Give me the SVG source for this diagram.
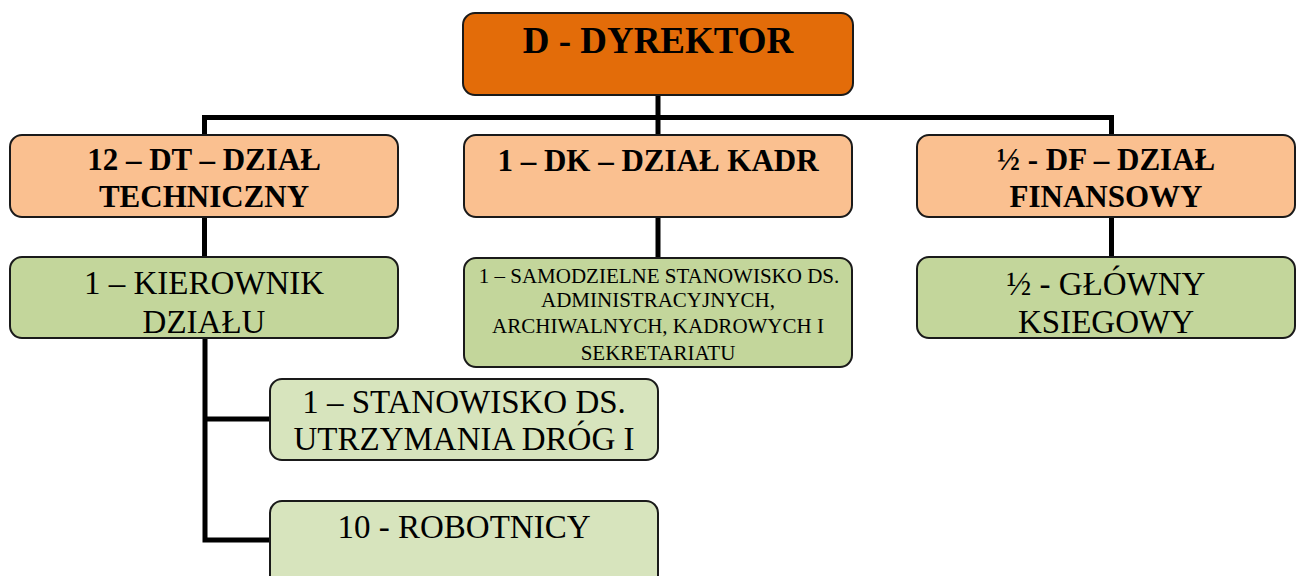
<svg xmlns="http://www.w3.org/2000/svg" width="1297" height="576" viewBox="0 0 1297 576">
<style>
.box{stroke:#1a1a1a;stroke-width:2}
.dir{fill:#E36C09}
.l2{fill:#FAC090}
.l3{fill:#C3D69B}
.l4{fill:#D7E4BD}
.conn{fill:none;stroke:#000;stroke-width:5}
svg text.t{font-family:"Liberation Serif","Times New Roman",serif;fill:#000;text-anchor:middle;font-weight:normal}
svg text.t.b{font-weight:bold}
</style>
<rect x="0" y="0" width="1297" height="576" fill="#fff"/>
<g id="connectors">
<path class="conn" d="M658,95 V135"/>
<path class="conn" d="M204.5,135 V117.5 H1111.5 V135"/>
<path class="conn" d="M204.5,217 V257"/>
<path class="conn" d="M658,217 V258"/>
<path class="conn" d="M1111.5,217 V257"/>
<path class="conn" d="M205,338 V540 H270"/>
<path class="conn" d="M205,419 H270"/>
</g>
<g id="n-dyrektor">
<rect class="box dir" x="463" y="13" width="390" height="82" rx="12"/>
<text class="t b" x="658" y="53" font-size="37" font-family="Liberation Serif">D - DYREKTOR</text>
</g>
<g id="n-dt">
<rect class="box l2" x="10" y="135" width="388" height="82" rx="12"/>
<text class="t b" x="204" y="170" font-size="31" font-family="Liberation Serif">12 – DT – DZIAŁ</text>
<text class="t b" x="204" y="207" font-size="31" font-family="Liberation Serif">TECHNICZNY</text>
</g>
<g id="n-dk">
<rect class="box l2" x="464" y="135" width="388" height="82" rx="12"/>
<text class="t b" x="658" y="171" font-size="31" font-family="Liberation Serif">1 – DK – DZIAŁ KADR</text>
</g>
<g id="n-df">
<rect class="box l2" x="917" y="135" width="378" height="82" rx="12"/>
<text class="t b" x="1106" y="170" font-size="31" font-family="Liberation Serif">½ - DF – DZIAŁ</text>
<text class="t b" x="1106" y="207" font-size="31" font-family="Liberation Serif">FINANSOWY</text>
</g>
<g id="n-kierownik">
<rect class="box l3" x="10" y="257" width="388" height="81" rx="12"/>
<text class="t" x="204" y="294" font-size="33" font-family="Liberation Serif">1 – KIEROWNIK</text>
<text class="t" x="204" y="333" font-size="33" font-family="Liberation Serif">DZIAŁU</text>
</g>
<g id="n-samodzielne">
<rect class="box l3" x="464" y="258" width="388" height="109" rx="12"/>
<text class="t" x="659" y="283" font-size="21" font-family="Liberation Serif">1 – SAMODZIELNE STANOWISKO DS.</text>
<text class="t" x="658" y="307" font-size="21" font-family="Liberation Serif">ADMINISTRACYJNYCH,</text>
<text class="t" x="658" y="333" font-size="21" font-family="Liberation Serif">ARCHIWALNYCH, KADROWYCH I</text>
<text class="t" x="658" y="360" font-size="21" font-family="Liberation Serif">SEKRETARIATU</text>
</g>
<g id="n-ksiegowy">
<rect class="box l3" x="917" y="257" width="378" height="81" rx="12"/>
<text class="t" x="1106" y="295" font-size="33" font-family="Liberation Serif">½ - GŁÓWNY</text>
<text class="t" x="1106" y="333" font-size="33" font-family="Liberation Serif">KSIEGOWY</text>
</g>
<g id="n-stanowisko">
<rect class="box l4" x="270" y="379" width="388" height="81" rx="12"/>
<text class="t" x="464" y="413" font-size="33" font-family="Liberation Serif">1 – STANOWISKO DS.</text>
<text class="t" x="464" y="450" font-size="33" font-family="Liberation Serif">UTRZYMANIA DRÓG I</text>
</g>
<g id="n-robotnicy">
<rect class="box l4" x="270" y="501" width="388" height="90" rx="12"/>
<text class="t" x="464" y="538" font-size="33" font-family="Liberation Serif">10 - ROBOTNICY</text>
</g>
</svg>
